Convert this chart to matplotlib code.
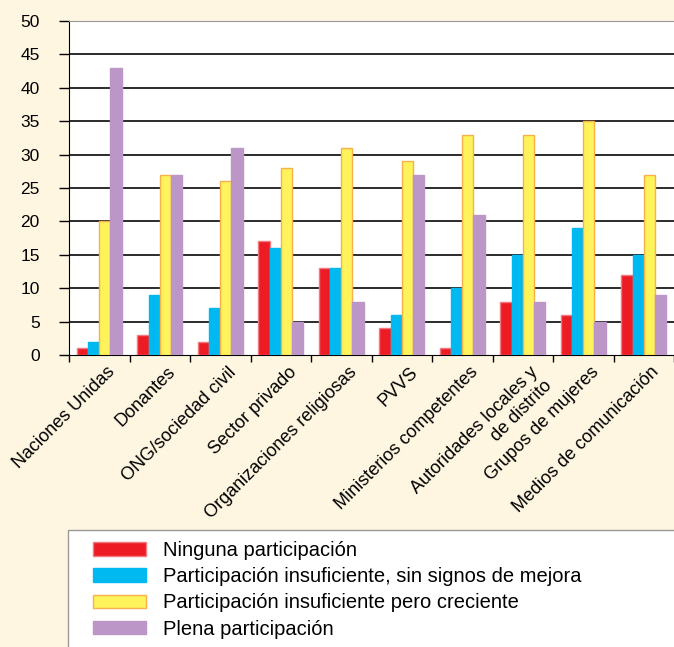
import matplotlib.pyplot as plt
import numpy as np
from matplotlib.patches import Rectangle, Patch
from matplotlib.transforms import ScaledTranslation

plt.rcParams['font.family'] = ['Liberation Sans', 'DejaVu Sans']

categories = ["Naciones Unidas", "Donantes", "ONG/sociedad civil", "Sector privado",
              "Organizaciones religiosas", "PVVS", "Ministerios competentes",
              "Autoridades locales y\nde distrito", "Grupos de mujeres",
              "Medios de comunicación"]
ninguna = [1, 3, 2, 17, 13, 4, 1, 8, 6, 12]
sin_mejora = [2, 9, 7, 16, 13, 6, 10, 15, 19, 15]
creciente = [20, 27, 26, 28, 31, 29, 33, 33, 35, 27]
plena = [43, 27, 31, 5, 8, 27, 21, 8, 5, 9]
series_labels = ["Ninguna participación",
                 "Participación insuficiente, sin signos de mejora",
                 "Participación insuficiente pero creciente",
                 "Plena participación"]
y_ticks = [0, 5, 10, 15, 20, 25, 30, 35, 40, 45, 50]

bg = '#FEF6E0'
colors = ['#ED1C24', '#00B9F0', '#FFF35C', '#BB96C6']
edges = ['#F07A80', '#00B9F0', '#F9B04A', '#BB96C6']

W, H = 674, 647
fig = plt.figure(figsize=(W / 100, H / 100), dpi=100, facecolor=bg)
ax = fig.add_axes([69 / W, 1 - 355 / H, (W - 69) / W, 334 / H])
ax.set_facecolor('white')

x = np.arange(len(categories))
w = 0.184
all_series = [ninguna, sin_mejora, creciente, plena]
for i, vals in enumerate(all_series):
    ax.bar(x + (i - 1.5) * w, vals, width=w, color=colors[i], edgecolor=edges[i],
           linewidth=1.0, zorder=3, label=series_labels[i])

ax.set_ylim(0, 50)
ax.set_xlim(-0.5, 9.42)
ax.set_yticks(y_ticks)
ax.set_yticklabels([str(v) for v in y_ticks],
                   family=['Liberation Sans Narrow', 'Liberation Sans'], fontsize=12.5)
ax.tick_params(axis='y', length=7, width=1, pad=14, color='black')
for v in y_ticks[1:-1]:
    ax.axhline(v, color='#1a1a1a', linewidth=1.3, zorder=1)

ax.set_xticks(x)
ax.set_xticks(np.arange(-0.5, 10, 1.0), minor=True)
ax.tick_params(axis='x', which='major', length=0, pad=4)
ax.tick_params(axis='x', which='minor', length=5, width=1, color='black')
ax.set_xticklabels(categories, rotation=45, ha='right', va='top',
                   rotation_mode='anchor', fontsize=13, multialignment='right')
off = ScaledTranslation(7 / 100, -3 / 100, fig.dpi_scale_trans)
for lab in ax.get_xticklabels():
    lab.set_transform(lab.get_transform() + off)

ax.spines['left'].set_color('black')
ax.spines['bottom'].set_color('black')
ax.spines['top'].set_color('#999999')
ax.spines['right'].set_visible(False)

# legend panel
fig.patches.append(Rectangle((68 / W, -0.01), 1.0, (H - 530) / H + 0.01,
                             transform=fig.transFigure, facecolor='white',
                             edgecolor='#999999', linewidth=1.0, zorder=0))
handles = [Patch(facecolor=colors[i], edgecolor=edges[i], linewidth=1.0)
           for i in range(4)]
fig.legend(handles, series_labels, loc='upper left',
           bbox_to_anchor=(93 / W, 1 - 541 / H), frameon=False, fontsize=14.5,
           handlelength=2.65, handleheight=0.65, handletextpad=0.85,
           labelspacing=0.36, borderpad=0, borderaxespad=0)

fig.savefig('out.png', dpi=100, facecolor=bg)
